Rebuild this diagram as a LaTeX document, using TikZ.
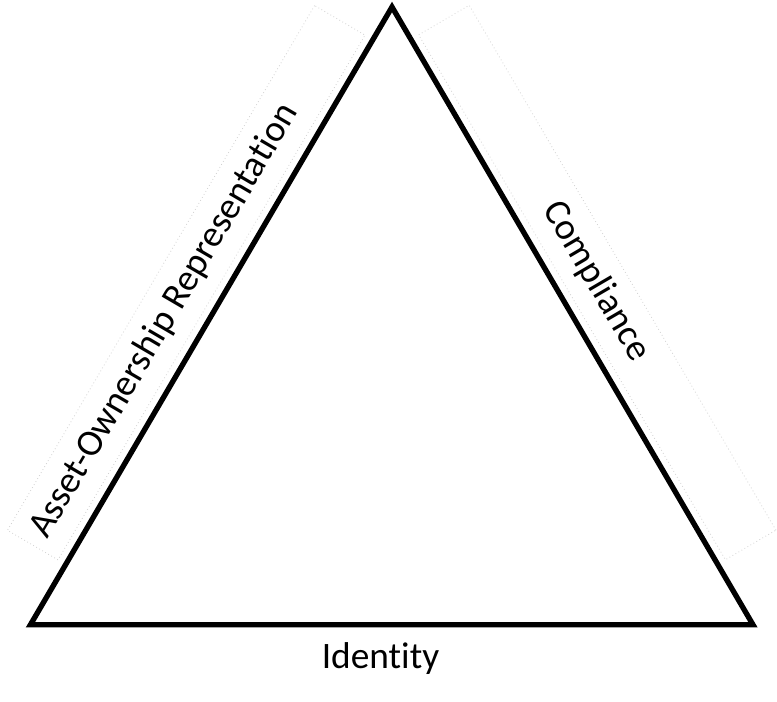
\documentclass[tikz,border=0pt]{standalone}
\usepackage{fontspec}
\setmainfont{Carlito}[Ligatures={NoCommon},RawFeature={-liga;-clig}]
\usetikzlibrary{calc}
\begin{document}
\begin{tikzpicture}[x=0.75pt,y=0.75pt,
  side/.style={line width=4pt,line join=miter,black},
  labeltext/.style={font=\fontsize{28}{34}\selectfont,inner sep=0pt,anchor=base},
  textframe/.style={draw=black!18,dotted,line width=0.6pt,inner sep=0pt,
    minimum width=456pt,minimum height=43.9pt}]
\useasboundingbox (0,0) rectangle (777,702);
\coordinate (A) at (392,695);
\coordinate (B) at (30.4,77.2);
\coordinate (C) at (753,77.2);
% faint text-box frames
\node[textframe,rotate=59.66] (boxL) at ($(B)!280.5pt!(A)!28.7pt!90:(A)$) {};
\node[textframe,rotate=-59.7] (boxR) at ($(A)!256.1pt!(C)!28.7pt!90:(C)$) {};
% triangle
\draw[side] (A) -- (B) -- (C) -- cycle;
% labels
\node[labeltext,rotate=59.66] (lblL) at ($(B)!247.5pt!(A)!21pt!90:(A)$) {Asset-Ownership Representation};
\node[labeltext,rotate=-59.7] (lblR) at ($(A)!255pt!(C)!21pt!90:(C)$) {Compliance};
\node[labeltext] (lblB) at (380.5,33.7) {Identity};
\end{tikzpicture}
\end{document}
